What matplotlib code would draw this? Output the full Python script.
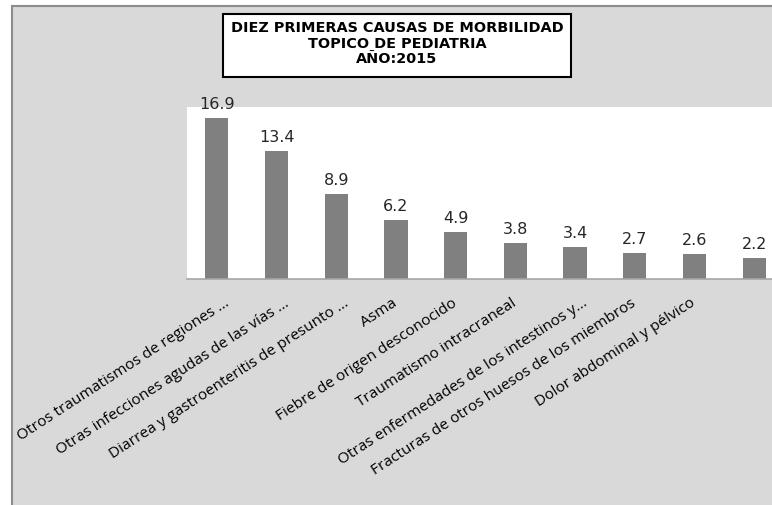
import matplotlib
matplotlib.use("Agg")
import matplotlib.pyplot as plt
from matplotlib.patches import Rectangle
from matplotlib.transforms import ScaledTranslation

# the 10th category label is not visible in the source chart
causas = [
    "Otros traumatismos de regiones ...",
    "Otras infecciones agudas de las vías ...",
    "Diarrea y gastroenteritis de presunto ...",
    "Asma",
    "Fiebre de origen desconocido",
    "Traumatismo intracraneal",
    "Otras enfermedades de los intestinos y...",
    "Fracturas de otros huesos de los miembros",
    "Dolor abdominal y pélvico",
    "",
]
porcentajes = [16.9, 13.4, 8.9, 6.2, 4.9, 3.8, 3.4, 2.7, 2.6, 2.2]
titulo = "DIEZ PRIMERAS CAUSAS DE MORBILIDAD\nTOPICO DE PEDIATRIA\nAÑO:2015"

W, H = 772, 506
fig = plt.figure(figsize=(W / 100, H / 100), dpi=100, facecolor="white")

# chart area background with gray border
fig.patches.append(Rectangle((12 / W, -0.01), 1.02, 1 - 7 / H + 0.01, transform=fig.transFigure,
                             facecolor="#d9d9d9", edgecolor="#8c8c8c", lw=1.5, zorder=-1))

ax = fig.add_axes([187 / W, 1 - 280 / H, (784 - 187) / W, (280 - 108) / H])
ax.set_facecolor("white")
x = range(len(porcentajes))
bars = ax.bar(x, porcentajes, width=0.39, color="#808080")
ax.set_xlim(-0.5, len(porcentajes) - 0.5)
ax.set_ylim(0, 18)
for s in ["top", "left", "right"]:
    ax.spines[s].set_visible(False)
ax.spines["bottom"].set_color("#a6a6a6")
ax.spines["bottom"].set_linewidth(1.2)
ax.set_yticks([])
ax.tick_params(axis="x", length=0, pad=16)
ax.set_xticks(list(x))
labels = ax.set_xticklabels(causas, rotation=33, ha="right", va="center", rotation_mode="anchor",
                            fontsize=11.1, family="Open Sans", color="black")
# truncated labels sit a bit further right in the original
for lb in labels:
    if lb.get_text().endswith("..."):
        lb.set_transform(lb.get_transform() + ScaledTranslation(11 / 100, 0, fig.dpi_scale_trans))

for b, v in zip(bars, porcentajes):
    ax.annotate(f"{v}", (b.get_x() + b.get_width() / 2, v), xytext=(0, 7),
                textcoords="offset points", ha="center", va="baseline",
                fontsize=11.5, family="DejaVu Sans", color="#262626")

# title box
fig.patches.append(Rectangle((223 / W, 1 - 78 / H), (571 - 223) / W, (78 - 15) / H,
                             transform=fig.transFigure, facecolor="white",
                             edgecolor="black", lw=1.5, zorder=3))
fig.text(397 / W, 1 - 43.5 / H, titulo, ha="center", va="center", fontsize=10.4,
         fontweight="bold", family="DejaVu Sans", linespacing=1.18, zorder=4)

fig.savefig("out.png", dpi=100, facecolor="white")
